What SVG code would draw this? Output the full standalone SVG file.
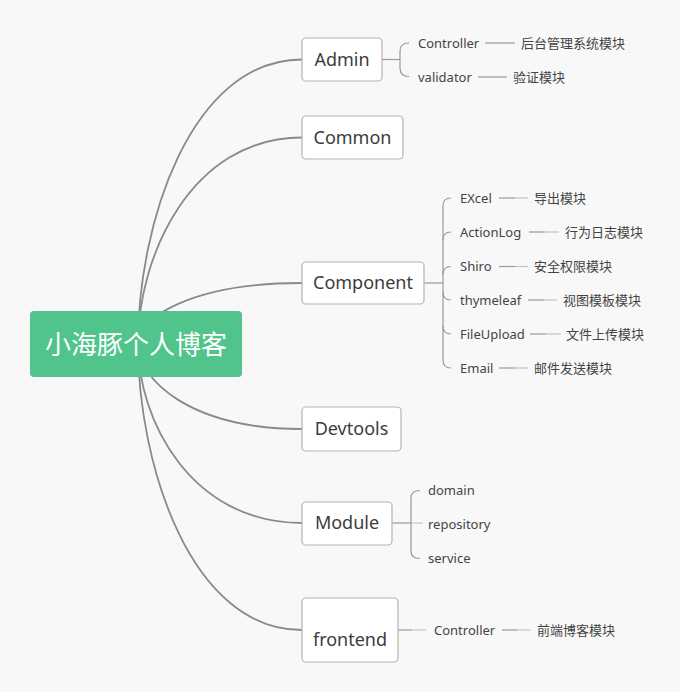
<svg xmlns="http://www.w3.org/2000/svg" width="680" height="692" viewBox="0 0 680 692">
<style>
.bg{fill:#f8f8f8}
.trunk{fill:none;stroke:#8a8a8a;stroke-width:1.8}
.br{fill:none;stroke:#999;stroke-width:1.2}
.lt{fill:none;stroke:#c4c4c4;stroke-width:1.2}
.box{fill:#fff;stroke:#b4b4b4;stroke-width:1.2}
.root{fill:#50c48b}
.t1{font-family:"Noto Sans","Noto Sans CJK SC",sans-serif;font-size:18px;fill:#3c3c3c;text-anchor:middle}
.t2{font-family:"Noto Sans","Noto Sans CJK SC",sans-serif;font-size:13px;fill:#444}
.t0{font-family:"Noto Sans CJK SC","Noto Sans",sans-serif;font-size:26px;fill:#fff;text-anchor:middle}
</style>
<rect class="bg" x="0" y="0" width="680" height="692"/>
<g id="connectors">
<path class="trunk" d="M138,344 C138,224.5 190.5,59.5 302,59.5"/>
<path class="trunk" d="M138,344 C138,257.3 190.5,137.5 302,137.5"/>
<path class="trunk" d="M138,344 C138,318.4 190.5,283 302,283"/>
<path class="trunk" d="M138,344 C138,379.7 190.5,429 302,429"/>
<path class="trunk" d="M138,344 C138,419.2 190.5,523 302,523"/>
<path class="trunk" d="M138,344 C138,464.1 190.5,630 302,630"/>
<!-- Admin -->
<path class="br" d="M382,59.5 H400"/>
<path class="br" d="M409,43 Q400,43 400,51 V68 Q400,76.5 409,76.5"/>
<path class="br" d="M485,43 H515"/>
<path class="br" d="M478,77 H507"/>
<!-- Component -->
<path class="br" d="M424,283 H443"/>
<path class="br" d="M443,206 V360"/>
<path class="br" d="M443,206 Q443,198 451,198"/>
<path class="br" d="M443,240 Q443,232 451,232"/>
<path class="br" d="M443,274.5 Q443,266.5 451,266.5"/>
<path class="br" d="M443,292 Q443,300 451,300"/>
<path class="br" d="M443,326 Q443,334 451,334"/>
<path class="br" d="M443,360 Q443,368 451,368"/>
<path class="br" d="M499,198 H515"/><path class="lt" d="M515,198 H528"/>
<path class="br" d="M529,232 H545"/><path class="lt" d="M545,232 H559"/>
<path class="br" d="M499,266.5 H515"/><path class="lt" d="M515,266.5 H528"/>
<path class="br" d="M528,300 H544"/><path class="lt" d="M544,300 H557"/>
<path class="br" d="M530,334 H546"/><path class="lt" d="M546,334 H561"/>
<path class="br" d="M499,368 H515"/><path class="lt" d="M515,368 H528"/>
<!-- Module -->
<path class="br" d="M392,523 H411"/>
<path class="lt" d="M411,523 H423"/>
<path class="br" d="M420,490.5 Q411,490.5 411,498 V551 Q411,558.5 420,558.5"/>
<!-- frontend -->
<path class="br" d="M398,630 H412"/>
<path class="lt" d="M412,630 H426"/>
<path class="br" d="M502,630 H517"/><path class="lt" d="M517,630 H531"/>
</g>
<g id="root">
<rect class="root" x="30" y="311" width="212" height="66" rx="4"/>
<text class="t0" x="136" y="354">小海豚个人博客</text>
</g>
<g id="admin">
<rect class="box" x="302" y="38" width="80" height="43" rx="4"/>
<text class="t1" x="342" y="65.5">Admin</text>
</g>
<g id="admin-controller"><text class="t2" x="418" y="47.5">Controller</text></g>
<g id="admin-controller-desc"><text class="t2" x="521" y="47.5">后台管理系统模块</text></g>
<g id="admin-validator"><text class="t2" x="418" y="81.5">validator</text></g>
<g id="admin-validator-desc"><text class="t2" x="513" y="81.5">验证模块</text></g>
<g id="common">
<rect class="box" x="302" y="116" width="101" height="43" rx="4"/>
<text class="t1" x="352.5" y="143.5">Common</text>
</g>
<g id="component">
<rect class="box" x="302" y="262" width="122" height="42" rx="4"/>
<text class="t1" x="363" y="289">Component</text>
</g>
<g id="excel"><text class="t2" x="460" y="202.5">EXcel</text><text class="t2" x="534" y="202.5">导出模块</text></g>
<g id="actionlog"><text class="t2" x="460" y="236.5">ActionLog</text><text class="t2" x="565" y="236.5">行为日志模块</text></g>
<g id="shiro"><text class="t2" x="460" y="271">Shiro</text><text class="t2" x="534" y="271">安全权限模块</text></g>
<g id="thymeleaf"><text class="t2" x="460" y="304.5">thymeleaf</text><text class="t2" x="563" y="304.5">视图模板模块</text></g>
<g id="fileupload"><text class="t2" x="460" y="338.5">FileUpload</text><text class="t2" x="566" y="338.5">文件上传模块</text></g>
<g id="email"><text class="t2" x="460" y="372.5">Email</text><text class="t2" x="534" y="372.5">邮件发送模块</text></g>
<g id="devtools">
<rect class="box" x="302" y="407" width="99" height="44" rx="4"/>
<text class="t1" x="351.5" y="435">Devtools</text>
</g>
<g id="module">
<rect class="box" x="302" y="502" width="90" height="43" rx="4"/>
<text class="t1" x="347" y="529">Module</text>
</g>
<g id="domain"><text class="t2" x="428" y="495">domain</text></g>
<g id="repository"><text class="t2" x="428" y="528.5">repository</text></g>
<g id="service"><text class="t2" x="428" y="562.5">service</text></g>
<g id="frontend">
<rect class="box" x="302" y="598" width="96" height="64" rx="4"/>
<text class="t1" x="350" y="645.5">frontend</text>
</g>
<g id="frontend-controller"><text class="t2" x="434" y="634.5">Controller</text><text class="t2" x="537" y="634.5">前端博客模块</text></g>
</svg>
